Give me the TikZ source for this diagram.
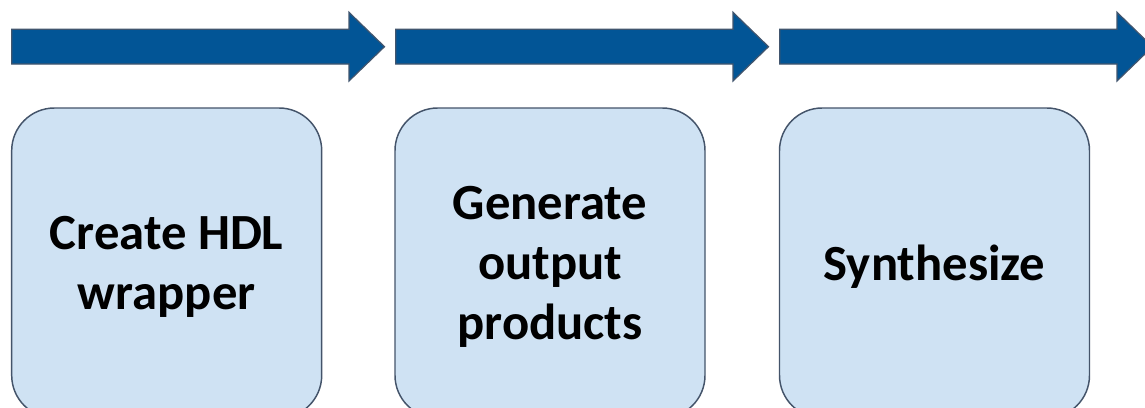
\documentclass[tikz,border=0pt]{standalone}
\usepackage{fontspec}
\setmainfont{Carlito}
\definecolor{flowblue}{RGB}{2,85,150}
\definecolor{flowedge}{RGB}{65,85,110}
\definecolor{stepfill}{RGB}{207,226,243}
\definecolor{stepedge}{RGB}{68,84,106}
\tikzset{
  flowarrow/.style={fill=flowblue, draw=flowedge, line width=0.9pt, line join=miter},
  stepbox/.style={draw=stepedge, fill=stepfill, line width=1.1pt, rounded corners=32pt,
    minimum width=232.5pt, minimum height=232.5pt, align=center,
    font=\fontsize{38}{45}\selectfont\bfseries, text=black}
}
\begin{document}
\begin{tikzpicture}[x=0.75pt, y=-0.75pt]
  \useasboundingbox (0,0) rectangle (1145,407);
  \fill[white] (0,0) rectangle (1145,407);
  \clip (0,0) rectangle (1145,407);
  % block arrows along the top
  \foreach \s in {0,384,768} {
    \draw[flowarrow] (11.7+\s,29.3) -- (349+\s,29.3) -- (349+\s,12.3) -- (384.5+\s,46.7)
      -- (349+\s,81) -- (349+\s,64) -- (11.7+\s,64) -- cycle;
  }
  % process steps
  \node[stepbox] (create) at (166.7,263) {};
  \node[stepbox] (generate) at (550,263) {};
  \node[stepbox] (synth) at (934.5,263) {};
  % step labels, set slightly below the box centres
  \node[stepbox, draw=none, fill=none] (createlbl) at (166.7,267) {Create HDL\\wrapper};
  \node[stepbox, draw=none, fill=none] (generatelbl) at (550,267) {Generate\\output\\products};
  \node[stepbox, draw=none, fill=none] (synthlbl) at (934.5,267) {Synthesize};
\end{tikzpicture}
\end{document}
